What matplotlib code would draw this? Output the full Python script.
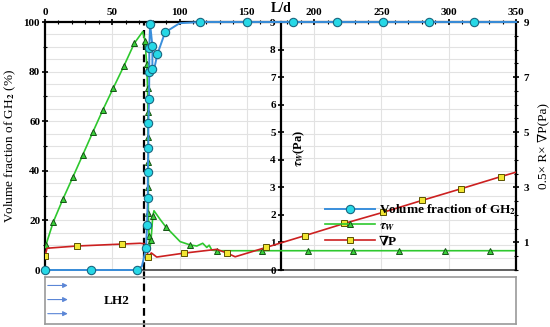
import numpy as np
import matplotlib
matplotlib.use('Agg')
import matplotlib.pyplot as plt
from matplotlib.ticker import MultipleLocator

plt.rcParams['font.family'] = ['Liberation Serif', 'DejaVu Serif']
plt.rcParams['font.weight'] = 'bold'
plt.rcParams['mathtext.fontset'] = 'stix'

# volume fraction of GH2 (%) vs L/d
vol_x = [0, 34, 68, 72, 75.1, 75.8, 76.4, 76.4, 76.8, 76.8, 77.3, 77.5, 77.5, 78.1,
         79.8, 79.8, 81.5, 83.5, 89.2, 100, 115, 150, 184, 217, 251, 285, 319, 350]
vol_y = [0, 0, 0, 1.5, 8.7, 18, 29, 39.4, 49.3, 59.4, 69, 79.8, 89.6, 99.2,
         90.4, 81, 82, 87, 95.8, 99.5, 100, 100, 100, 100, 100, 100, 100, 100]
vol_marks = [0, 1, 2, 4, 5, 6, 7, 8, 9, 10, 11, 12, 13, 14, 15, 17, 18, 20, 21, 22, 23, 24, 25, 26]

# wall shear stress tau_w (Pa)
tau_x = [0.7, 6.2, 13.2, 20.6, 28, 35.5, 42.9, 50.8, 58.7, 66.4, 72.6, 74.3, 75.6,
         76.2, 76.4, 76.6, 76.8, 76.8, 76.8, 77.3, 77.8, 78.8, 80.1, 81, 85.5, 89.7,
         100.4, 107.8, 112.8, 117.2, 120.2, 122, 124, 127.6, 161.6, 195.3, 229,
         263.4, 296.9, 330.9, 350]
tau_y = [0.91, 1.75, 2.56, 3.36, 4.17, 5.0, 5.8, 6.61, 7.41, 8.23, 8.65, 8.32, 7.46,
         6.61, 5.74, 4.84, 3.93, 3.0, 2.08, 1.23, 0.73, 1.09, 1.96, 2.15, 1.84, 1.57,
         1.03, 0.91, 0.87, 0.97, 0.82, 0.90, 0.72, 0.70, 0.70, 0.70, 0.70,
         0.70, 0.70, 0.70, 0.70]
tau_marks = [0, 1, 2, 3, 4, 5, 6, 7, 8, 9, 11, 12, 13, 14, 15, 16, 17, 18, 19, 21, 22,
             25, 27, 33, 34, 35, 36, 37, 38, 39]

# 0.5 x R x grad P (Pa)
dp_x = [0, 1.5, 23.5, 57, 70.6, 74.5, 75.6, 76.8, 79, 83, 103, 127.6, 135.5, 141.3,
        164.3, 193.3, 222.5, 251, 280.5, 309.3, 338.8, 350]
dp_y = [0.51, 0.79, 0.87, 0.94, 0.97, 0.95, 0.73, 0.48, 0.62, 0.47, 0.61, 0.75, 0.61,
        0.48, 0.82, 1.25, 1.69, 2.09, 2.53, 2.95, 3.39, 3.55]
dp_marks = [0, 2, 3, 7, 10, 12, 14, 15, 16, 17, 18, 19, 20]

interface_x = 73.6

W, H = 550, 327
fig = plt.figure(figsize=(W / 100, H / 100), dpi=100)
ax = fig.add_axes([45 / W, 1 - 270 / H, 471 / W, 248 / H])

ax.set_xlim(0, 350)
ax.set_ylim(0, 100)
ax.xaxis.tick_top()
ax.xaxis.set_major_locator(MultipleLocator(50))
ax.xaxis.set_minor_locator(MultipleLocator(10))
ax.yaxis.set_major_locator(MultipleLocator(20))
ax.yaxis.set_minor_locator(MultipleLocator(10))
ax.tick_params(which='major', direction='inout', length=5, width=1.2, labelsize=8, pad=1)
ax.tick_params(which='minor', direction='inout', length=3, width=0.8)
for v in np.arange(5, 100, 5):
    ax.axhline(v, color='#e2e2e2', lw=0.8, zorder=0)
for v in range(50, 350, 50):
    ax.axvline(v, color='#e2e2e2', lw=0.8, zorder=0)
ax.spines['left'].set_linewidth(1.6)
ax.spines['top'].set_linewidth(1.6)
ax.spines['right'].set_visible(False)
ax.spines['bottom'].set_color('#444444')
ax.spines['bottom'].set_linewidth(1.2)
ax.set_ylabel('Volume fraction of GH$_\\mathbf{2}$ (%)', fontsize=9.5, labelpad=4)

ax2 = ax.twinx()
ax2.set_ylim(0, 9)
ax2.spines['left'].set_position(('data', 175))
ax2.spines['left'].set_linewidth(1.6)
for s in ['right', 'top', 'bottom']:
    ax2.spines[s].set_visible(False)
ax2.yaxis.tick_left()
ax2.yaxis.set_major_locator(MultipleLocator(1))
ax2.tick_params(direction='inout', length=5, width=1.2, labelsize=8, pad=1)
ax2.text(189, 4.4, '$\\tau_W$(Pa)', rotation=90, fontsize=9, ha='center', va='center')

ax3 = ax.twinx()
ax3.set_ylim(0, 9)
for s in ['left', 'top', 'bottom']:
    ax3.spines[s].set_visible(False)
ax3.spines['right'].set_linewidth(1.6)
ax3.yaxis.set_major_locator(MultipleLocator(2, offset=1))
ax3.yaxis.set_minor_locator(MultipleLocator(0.5))
ax3.tick_params(which='major', direction='inout', length=5, width=1.2, labelsize=8, pad=3)
ax3.tick_params(which='minor', direction='inout', length=3, width=0.8)
ax3.set_ylabel('0.5× R× ∇P(Pa)', fontsize=9.5, labelpad=6)

l_tau, = ax2.plot(tau_x, tau_y, color='#2ec82e', lw=1.2, marker='^', markevery=tau_marks,
                  ms=4.5, mfc='#3bd03b', mec='#145214', mew=0.7, label='$\\tau_W$', zorder=3)
l_dp, = ax3.plot(dp_x, dp_y, color='#cc2020', lw=1.2, marker='s', markevery=dp_marks,
                 ms=4.5, mfc='#f2e632', mec='#5a5200', mew=0.7, label='∇P', zorder=3)
l_vol, = ax3.plot(np.array(vol_x), np.array(vol_y) * 0.09, color='#3a8fdc', lw=1.4,
                  marker='o', markevery=vol_marks, ms=6, mfc='#26d8e6', mec='#1a6680',
                  mew=0.8, label='Volume fraction of GH$_\\mathbf{2}$', zorder=4, clip_on=False)

ax.axvline(interface_x, color='black', lw=1.6, ls=(0, (3.5, 2)), zorder=5)

leg = ax3.legend(handles=[l_vol, l_tau, l_dp], loc='upper left', bbox_to_anchor=(0.58, 0.30),
                 frameon=False, handlelength=3.8, fontsize=9.5, labelspacing=0.2,
                 borderpad=0, handletextpad=0.3)

fig.text(281 / W, 1 - 8 / H, 'L/d', ha='center', va='center', fontsize=10)

# bottom sketch of the pipe
axb = fig.add_axes([45 / W, 1 - 324 / H, 471 / W, 47 / H])
axb.set_xlim(0, 350)
axb.set_ylim(0, 1)
axb.set_xticks([])
axb.set_yticks([])
for s in axb.spines.values():
    s.set_color('#9a9a9a')
    s.set_linewidth(1.2)
for yy in [0.82, 0.52, 0.22]:
    axb.annotate('', xy=(19, yy), xytext=(0, yy),
                 arrowprops=dict(arrowstyle='-|>', color='#5b86d6', lw=0.8, mutation_scale=7))
axb.text(53, 0.5, 'LH2', fontsize=9.5, ha='center', va='center')
axb.axvline(interface_x, ymin=-0.1, ymax=1.2, color='black', lw=1.6, ls=(0, (3.5, 2)),
            clip_on=False)

fig.savefig('out.png', dpi=100)
